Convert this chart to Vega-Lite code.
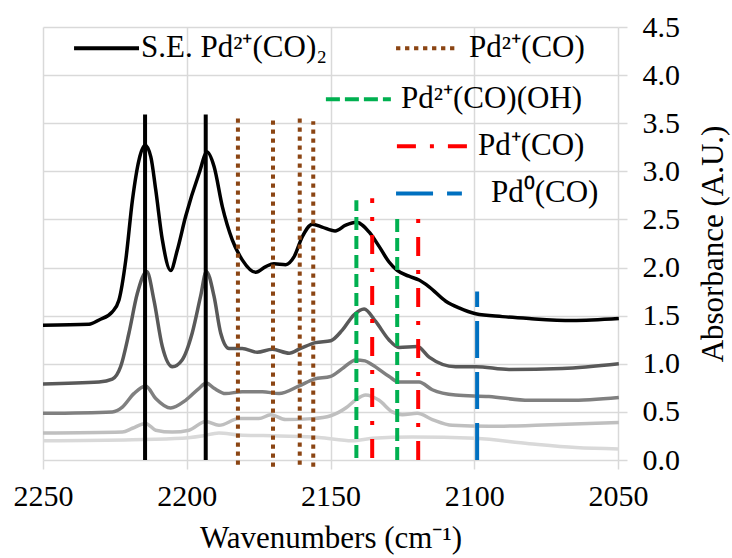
{
  "$schema": "https://vega.github.io/schema/vega-lite/v6.json",
  "width": 575,
  "height": 433,
  "autosize": "none",
  "padding": {"left": 43, "top": 27, "right": 114, "bottom": 98},
  "background": "white",
  "config": {
    "view": {"stroke": null},
    "axis": {
      "gridColor": "#d9d9d9",
      "gridWidth": 1.5,
      "tickColor": "#d9d9d9",
      "tickWidth": 1.5,
      "tickSize": 9,
      "domain": false,
      "labelFont": "Liberation Serif",
      "labelFontSize": 30,
      "labelColor": "black",
      "labelFlush": false,
      "titleFont": "Liberation Serif",
      "titleFontSize": 31,
      "titleFontWeight": "normal",
      "titleColor": "black"
    }
  },
  "datasets": {
    "spectra": [
      {"s":"A","x":2250,"y":1.40},{"s":"A","x":2234.0,"y":1.41},{"s":"A","x":2230.5,"y":1.455},{"s":"A","x":2225.9,"y":1.54},{"s":"A","x":2223.6,"y":1.66},{"s":"A","x":2221.2,"y":2.08},{"s":"A","x":2218.9,"y":2.70},{"s":"A","x":2216.6,"y":3.12},{"s":"A","x":2214.5,"y":3.27},{"s":"A","x":2212.5,"y":3.15},{"s":"A","x":2210.8,"y":2.81},{"s":"A","x":2208.5,"y":2.29},{"s":"A","x":2205.6,"y":1.97},{"s":"A","x":2203.3,"y":2.18},{"s":"A","x":2200.4,"y":2.53},{"s":"A","x":2195.7,"y":2.98},{"s":"A","x":2192.9,"y":3.20},{"s":"A","x":2190.5,"y":3.05},{"s":"A","x":2187.6,"y":2.63},{"s":"A","x":2184.2,"y":2.29},{"s":"A","x":2180.7,"y":2.08},{"s":"A","x":2176.0,"y":1.95},{"s":"A","x":2172.5,"y":2.01},{"s":"A","x":2169.7,"y":2.04},{"s":"A","x":2165.6,"y":2.03},{"s":"A","x":2162.7,"y":2.11},{"s":"A","x":2159.8,"y":2.32},{"s":"A","x":2156.3,"y":2.45},{"s":"A","x":2152.9,"y":2.42},{"s":"A","x":2148.4,"y":2.38},{"s":"A","x":2144.7,"y":2.44},{"s":"A","x":2141.0,"y":2.47},{"s":"A","x":2136.6,"y":2.37},{"s":"A","x":2133.1,"y":2.22},{"s":"A","x":2129.7,"y":2.06},{"s":"A","x":2126.8,"y":1.97},{"s":"A","x":2122.7,"y":1.91},{"s":"A","x":2119.2,"y":1.87},{"s":"A","x":2115.7,"y":1.80},{"s":"A","x":2109.9,"y":1.65},{"s":"A","x":2105.3,"y":1.58},{"s":"A","x":2099.5,"y":1.52},{"s":"A","x":2090.2,"y":1.49},{"s":"A","x":2080.9,"y":1.47},{"s":"A","x":2065.9,"y":1.45},{"s":"A","x":2049.7,"y":1.47},
      {"s":"B","x":2250,"y":0.79},{"s":"B","x":2230.5,"y":0.81},{"s":"B","x":2225.9,"y":0.84},{"s":"B","x":2223.0,"y":0.97},{"s":"B","x":2220.1,"y":1.32},{"s":"B","x":2217.2,"y":1.73},{"s":"B","x":2213.9,"y":1.96},{"s":"B","x":2211.4,"y":1.66},{"s":"B","x":2208.5,"y":1.18},{"s":"B","x":2205.0,"y":0.97},{"s":"B","x":2201.6,"y":1.04},{"s":"B","x":2198.1,"y":1.32},{"s":"B","x":2195.2,"y":1.70},{"s":"B","x":2193.2,"y":1.96},{"s":"B","x":2190.5,"y":1.70},{"s":"B","x":2188.2,"y":1.32},{"s":"B","x":2185.3,"y":1.16},{"s":"B","x":2180.7,"y":1.16},{"s":"B","x":2175.5,"y":1.12},{"s":"B","x":2170.2,"y":1.15},{"s":"B","x":2164.4,"y":1.11},{"s":"B","x":2160.4,"y":1.16},{"s":"B","x":2155.2,"y":1.22},{"s":"B","x":2149.9,"y":1.24},{"s":"B","x":2145.9,"y":1.35},{"s":"B","x":2141.8,"y":1.51},{"s":"B","x":2138.3,"y":1.57},{"s":"B","x":2134.3,"y":1.44},{"s":"B","x":2129.7,"y":1.25},{"s":"B","x":2126.2,"y":1.17},{"s":"B","x":2119.8,"y":1.18},{"s":"B","x":2115.7,"y":1.07},{"s":"B","x":2106.5,"y":0.97},{"s":"B","x":2099.5,"y":0.97},{"s":"B","x":2087.9,"y":0.94},{"s":"B","x":2069.4,"y":0.95},{"s":"B","x":2049.7,"y":1.00},
      {"s":"C","x":2250,"y":0.485},{"s":"C","x":2225.9,"y":0.50},{"s":"C","x":2222.4,"y":0.55},{"s":"C","x":2218.4,"y":0.69},{"s":"C","x":2214.3,"y":0.77},{"s":"C","x":2210.8,"y":0.64},{"s":"C","x":2205.6,"y":0.54},{"s":"C","x":2200.4,"y":0.62},{"s":"C","x":2195.7,"y":0.745},{"s":"C","x":2193.2,"y":0.80},{"s":"C","x":2190.5,"y":0.745},{"s":"C","x":2186.5,"y":0.69},{"s":"C","x":2180.7,"y":0.71},{"s":"C","x":2173.7,"y":0.71},{"s":"C","x":2167.9,"y":0.69},{"s":"C","x":2160.9,"y":0.77},{"s":"C","x":2155.7,"y":0.84},{"s":"C","x":2149.9,"y":0.87},{"s":"C","x":2145.9,"y":0.95},{"s":"C","x":2141.2,"y":1.04},{"s":"C","x":2138.0,"y":1.03},{"s":"C","x":2135.5,"y":0.99},{"s":"C","x":2129.7,"y":0.87},{"s":"C","x":2126.2,"y":0.81},{"s":"C","x":2119.2,"y":0.81},{"s":"C","x":2114.6,"y":0.73},{"s":"C","x":2106.5,"y":0.675},{"s":"C","x":2094.9,"y":0.66},{"s":"C","x":2080.9,"y":0.62},{"s":"C","x":2067.0,"y":0.62},{"s":"C","x":2049.7,"y":0.65},
      {"s":"D","x":2250,"y":0.28},{"s":"D","x":2222.4,"y":0.29},{"s":"D","x":2218.9,"y":0.33},{"s":"D","x":2214.3,"y":0.38},{"s":"D","x":2210.8,"y":0.31},{"s":"D","x":2205.0,"y":0.29},{"s":"D","x":2199.2,"y":0.31},{"s":"D","x":2193.4,"y":0.40},{"s":"D","x":2188.8,"y":0.36},{"s":"D","x":2181.8,"y":0.43},{"s":"D","x":2174.9,"y":0.43},{"s":"D","x":2170.8,"y":0.47},{"s":"D","x":2165.6,"y":0.42},{"s":"D","x":2156.3,"y":0.43},{"s":"D","x":2149.9,"y":0.46},{"s":"D","x":2144.7,"y":0.54},{"s":"D","x":2141.0,"y":0.63},{"s":"D","x":2137.8,"y":0.675},{"s":"D","x":2133.1,"y":0.62},{"s":"D","x":2128.5,"y":0.50},{"s":"D","x":2125.0,"y":0.47},{"s":"D","x":2119.8,"y":0.485},{"s":"D","x":2114.6,"y":0.42},{"s":"D","x":2107.6,"y":0.36},{"s":"D","x":2094.9,"y":0.35},{"s":"D","x":2078.6,"y":0.36},{"s":"D","x":2049.7,"y":0.39},
      {"s":"E","x":2250,"y":0.20},{"s":"E","x":2218.9,"y":0.21},{"s":"E","x":2201.6,"y":0.225},{"s":"E","x":2194.6,"y":0.25},{"s":"E","x":2188.8,"y":0.28},{"s":"E","x":2181.8,"y":0.26},{"s":"E","x":2167.9,"y":0.25},{"s":"E","x":2154.0,"y":0.235},{"s":"E","x":2142.4,"y":0.20},{"s":"E","x":2135.5,"y":0.225},{"s":"E","x":2121.6,"y":0.24},{"s":"E","x":2099.5,"y":0.225},{"s":"E","x":2080.9,"y":0.17},{"s":"E","x":2064.7,"y":0.13},{"s":"E","x":2049.7,"y":0.115}
    ],
    "refs": [
      {"g":"se","x":2214.5,"y":0,"y2":3.59},
      {"g":"se","x":2193.4,"y":0,"y2":3.59},
      {"g":"co","x":2182.2,"y":-0.05,"y2":3.58},
      {"g":"co","x":2170.0,"y":-0.07,"y2":3.55},
      {"g":"co","x":2160.7,"y":-0.05,"y2":3.55},
      {"g":"co","x":2156.0,"y":-0.07,"y2":3.52},
      {"g":"oh","x":2141.0,"y":0.02,"y2":2.7},
      {"g":"oh","x":2126.8,"y":0.0,"y2":2.53},
      {"g":"p1","x":2135.5,"y":0.02,"y2":2.72},
      {"g":"p1","x":2119.5,"y":0.0,"y2":2.53},
      {"g":"p0","x":2099.0,"y":0.0,"y2":1.75}
    ],
    "legend": [
      {"g":"se","x1":2239.2,"x2":2216.6,"y":4.28,"tx":2215.9,"label":"S.E. Pd²⁺(CO)₂"},
      {"g":"co","x1":2127.2,"x2":2105.3,"y":4.28,"tx":2101.8,"label":"Pd²⁺(CO)"},
      {"g":"oh","x1":2151.6,"x2":2129.0,"y":3.75,"tx":2125.5,"label":"Pd²⁺(CO)(OH)"},
      {"g":"p1","x1":2126.9,"x2":2102.5,"y":3.26,"tx":2098.7,"label":"Pd⁺(CO)"},
      {"g":"p0","x1":2127.2,"x2":2104.3,"y":2.77,"tx":2094.2,"label":"Pd⁰(CO)"}
    ]
  },
  "encoding": {
    "x": {
      "field": "x", "type": "quantitative",
      "scale": {"domain": [2050, 2250], "reverse": true, "nice": false, "zero": false},
      "axis": {"values": [2250, 2200, 2150, 2100, 2050], "title": "Wavenumbers (cm⁻¹)", "labelFont": "Liberation Serif", "labelPadding": 12, "titlePadding": 12, "format": "d"}
    },
    "y": {
      "field": "y", "type": "quantitative",
      "scale": {"domain": [0, 4.5], "nice": false, "zero": false},
      "axis": {"orient": "right", "values": [0, 0.5, 1, 1.5, 2, 2.5, 3, 3.5, 4, 4.5], "format": ".1f", "title": "Absorbance (A.U.)", "labelFont": "Liberation Serif", "titleAngle": 270, "labelPadding": 15, "titlePadding": 50}
    }
  },
  "layer": [
    {
      "data": {"name": "spectra"},
      "mark": {"type": "line", "interpolate": "monotone", "strokeWidth": 3.5},
      "encoding": {
        "color": {"field": "s", "type": "nominal", "legend": null,
          "scale": {"domain": ["E", "D", "C", "B", "A"], "range": ["#d9d9d9", "#bfbfbf", "#808080", "#595959", "#000000"]}}
      }
    },
    {
      "data": {"name": "refs"},
      "transform": [{"filter": "datum.g == 'se'"}],
      "mark": {"type": "rule", "color": "black", "strokeWidth": 4},
      "encoding": {"y2": {"field": "y2"}}
    },
    {
      "data": {"name": "refs"},
      "transform": [{"filter": "datum.g == 'co'"}],
      "mark": {"type": "rule", "color": "#8b4513", "strokeWidth": 4, "strokeDash": [4.3, 4.7]},
      "encoding": {"y2": {"field": "y2"}}
    },
    {
      "data": {"name": "refs"},
      "transform": [{"filter": "datum.g == 'oh'"}],
      "mark": {"type": "rule", "color": "#00b050", "strokeWidth": 4, "strokeDash": [13, 6]},
      "encoding": {"y2": {"field": "y2"}}
    },
    {
      "data": {"name": "refs"},
      "transform": [{"filter": "datum.g == 'p1'"}],
      "mark": {"type": "rule", "color": "#ff0000", "strokeWidth": 4, "strokeDash": [19, 14, 4, 14]},
      "encoding": {"y2": {"field": "y2"}}
    },
    {
      "data": {"name": "refs"},
      "transform": [{"filter": "datum.g == 'p0'"}],
      "mark": {"type": "rule", "color": "#0070c0", "strokeWidth": 4, "strokeDash": [37, 14]},
      "encoding": {"y2": {"field": "y2"}}
    },
    {
      "data": {"name": "legend"},
      "transform": [{"filter": "datum.g == 'se'"}],
      "mark": {"type": "rule", "color": "black", "strokeWidth": 4},
      "encoding": {"x": {"field": "x1", "type": "quantitative"}, "x2": {"field": "x2"}}
    },
    {
      "data": {"name": "legend"},
      "transform": [{"filter": "datum.g == 'co'"}],
      "mark": {"type": "rule", "color": "#8b4513", "strokeWidth": 4, "strokeDash": [4.3, 4.7]},
      "encoding": {"x": {"field": "x1", "type": "quantitative"}, "x2": {"field": "x2"}}
    },
    {
      "data": {"name": "legend"},
      "transform": [{"filter": "datum.g == 'oh'"}],
      "mark": {"type": "rule", "color": "#00b050", "strokeWidth": 4, "strokeDash": [14, 5]},
      "encoding": {"x": {"field": "x1", "type": "quantitative"}, "x2": {"field": "x2"}}
    },
    {
      "data": {"name": "legend"},
      "transform": [{"filter": "datum.g == 'p1'"}],
      "mark": {"type": "rule", "color": "#ff0000", "strokeWidth": 4, "strokeDash": [19, 14, 4, 14]},
      "encoding": {"x": {"field": "x1", "type": "quantitative"}, "x2": {"field": "x2"}}
    },
    {
      "data": {"name": "legend"},
      "transform": [{"filter": "datum.g == 'p0'"}],
      "mark": {"type": "rule", "color": "#0070c0", "strokeWidth": 4, "strokeDash": [37, 14]},
      "encoding": {"x": {"field": "x1", "type": "quantitative"}, "x2": {"field": "x2"}}
    },
    {
      "data": {"name": "legend"},
      "mark": {"type": "text", "align": "left", "baseline": "middle", "font": "Liberation Serif", "fontSize": 31, "color": "black"},
      "encoding": {"x": {"field": "tx", "type": "quantitative"}, "text": {"field": "label"}}
    }
  ]
}
